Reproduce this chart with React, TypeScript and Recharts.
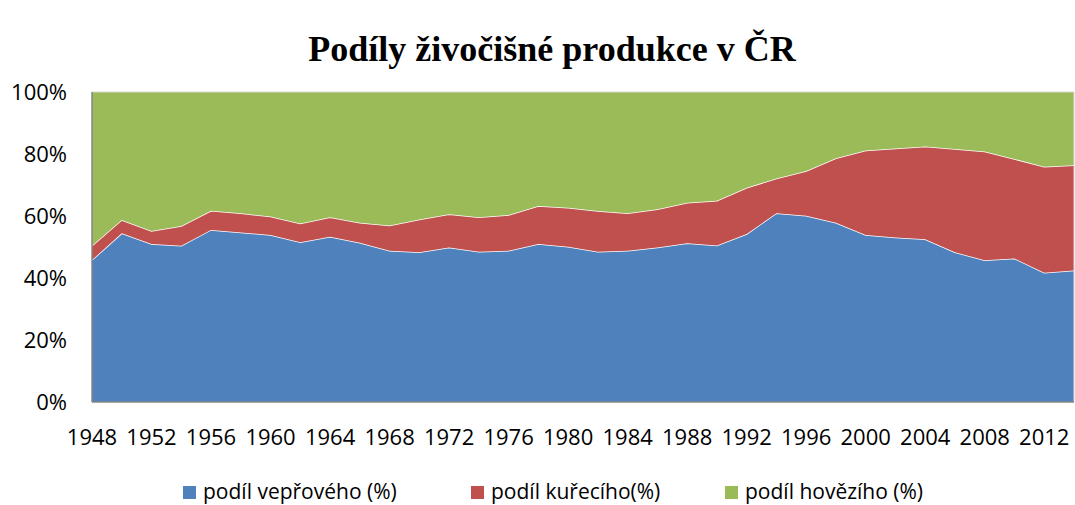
import { AreaChart, Area, XAxis, YAxis, ReferenceLine } from 'recharts';

const years = [
  1948, 1950, 1952, 1954, 1956, 1958, 1960, 1962, 1964, 1966, 1968, 1970,
  1972, 1974, 1976, 1978, 1980, 1982, 1984, 1986, 1988, 1990, 1992, 1994,
  1996, 1998, 2000, 2002, 2004, 2006, 2008, 2010, 2012, 2014,
];

// podíl vepřového (%)
const veprove = [
  45.8, 54.4, 51.0, 50.4, 55.5, 54.7, 53.9, 51.5, 53.3, 51.4, 48.8, 48.3,
  49.8, 48.5, 48.8, 51.0, 50.1, 48.5, 48.8, 49.8, 51.2, 50.5, 54.2, 60.9,
  60.1, 57.8, 53.9, 53.1, 52.5, 48.3, 45.7, 46.3, 41.7, 42.4,
];

// podíl kuřecího (%)
const kureci = [
  4.6, 4.3, 4.2, 6.4, 6.2, 6.2, 5.9, 6.1, 6.3, 6.4, 8.1, 10.6,
  10.8, 11.1, 11.5, 12.2, 12.6, 13.1, 12.1, 12.4, 13.1, 14.4, 14.9, 11.2,
  14.4, 20.8, 27.2, 28.7, 29.9, 33.3, 35.1, 32.1, 34.2, 34.0,
];

// podíl hovězího (%)
const hovezi = [
  49.6, 41.3, 44.8, 43.2, 38.3, 39.1, 40.2, 42.4, 40.4, 42.2, 43.1, 41.1,
  39.4, 40.4, 39.7, 36.8, 37.3, 38.4, 39.1, 37.8, 35.7, 35.1, 30.9, 27.9,
  25.5, 21.4, 18.9, 18.2, 17.6, 18.4, 19.2, 21.6, 24.1, 23.6,
];

const yTicks = [0, 20, 40, 60, 80, 100];

const series = [
  { key: 'veprove', name: 'podíl vepřového (%)', color: '#4F81BD' },
  { key: 'kureci', name: 'podíl kuřecího(%)', color: '#C0504D' },
  { key: 'hovezi', name: 'podíl hovězího (%)', color: '#9BBB59' },
];

const data = years.map((year, i) => ({
  year,
  veprove: veprove[i],
  kureci: kureci[i],
  hovezi: hovezi[i],
}));

const font = '"Open Sans", sans-serif';

// legend drawn as plain html under the chart
const LegendBox = () => (
  <div style={{ position: 'absolute', left: 0, top: 478, width: 1075, height: 26, fontFamily: font, fontSize: 21, lineHeight: '26px', color: '#000' }}>
    {series.map((s, i) => (
      <div
        key={s.key}
        style={{
          position: 'absolute',
          left: [183, 471, 725][i],
          top: 0,
          height: 26,
          display: 'flex',
          alignItems: 'center',
          whiteSpace: 'nowrap',
        }}
      >
        <span style={{ width: 13, height: 13, background: s.color, marginRight: 7, marginTop: 3, display: 'inline-block' }} />
        <span>{s.name}</span>
      </div>
    ))}
  </div>
);

export default function App() {
  return (
    <div style={{ position: 'absolute', left: 0, top: 0, width: 1075, height: 505, background: '#fff' }}>
      <div
        style={{
          position: 'absolute',
          left: 552,
          top: 31,
          transform: 'translateX(-50%)',
          fontFamily: '"Liberation Serif", "Times New Roman", serif',
          fontWeight: 'bold',
          fontSize: 36,
          lineHeight: '36px',
          whiteSpace: 'nowrap',
        }}
      >
        Podíly živočišné produkce v ČR
      </div>
      <AreaChart
        width={1075}
        height={505}
        data={data}
        margin={{ top: 92, right: 1, bottom: 73, left: 0 }}
      >
        <XAxis
          dataKey="year"
          height={30}
          interval={1}
          tickLine={false}
          tickSize={0}
          tickMargin={27}
          axisLine={{ stroke: '#868686', strokeWidth: 1.5 }}
          tick={{ fill: '#000', fontSize: 22, fontFamily: font }}
        />
        <YAxis
          width={92}
          domain={[0, 100]}
          ticks={yTicks}
          allowDataOverflow
          tickFormatter={(v) => `${v}%`}
          tickLine={false}
          tickSize={0}
          tickMargin={25}
          axisLine={{ stroke: '#868686', strokeWidth: 1.5 }}
          tick={{ fill: '#000', fontSize: 22, fontFamily: font }}
        />
        {series.map((s) => (
          <Area
            key={s.key}
            type="linear"
            dataKey={s.key}
            name={s.name}
            stackId="1"
            fill={s.color}
            fillOpacity={1}
            stroke={s.key === 'hovezi' ? 'none' : '#ffffff'}
            strokeWidth={1.5}
            isAnimationActive={false}
          />
        ))}
        <ReferenceLine y={100} stroke="#d9d9d9" strokeWidth={1} />
        <ReferenceLine x={2014} stroke="#d9d9d9" strokeWidth={1} />
      </AreaChart>
      <LegendBox />
    </div>
  );
}
